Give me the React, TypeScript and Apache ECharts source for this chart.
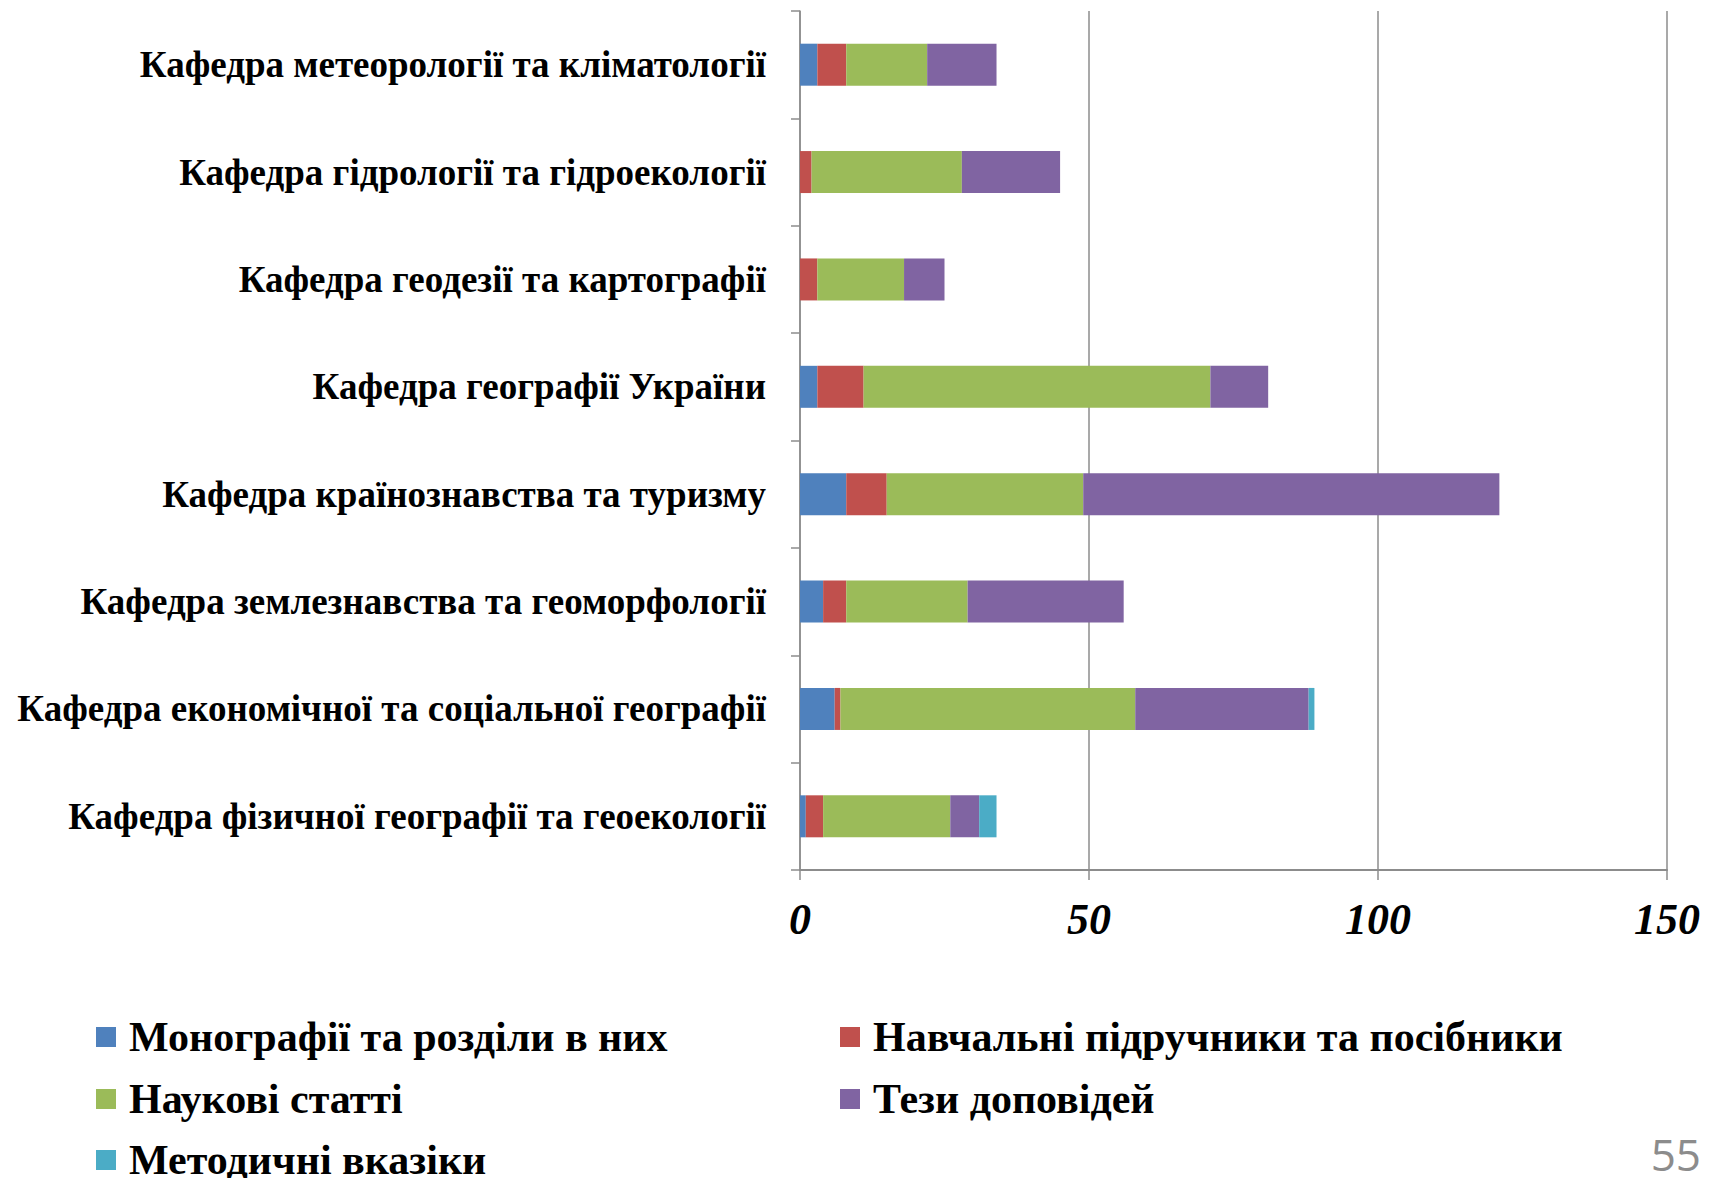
import React, { useEffect, useRef } from "react";
import * as echarts from "echarts";

const categories = [
  "Кафедра метеорології та кліматології",
  "Кафедра гідрології та гідроекології",
  "Кафедра геодезії та картографії",
  "Кафедра географії України",
  "Кафедра країнознавства та туризму",
  "Кафедра землезнавства та геоморфології",
  "Кафедра економічної та соціальної географії",
  "Кафедра фізичної географії та геоекології",
];

const seriesNames = [
  "Монографії та розділи в них",
  "Навчальні підручники та посібники",
  "Наукові статті",
  "Тези доповідей",
  "Методичні вказіки",
];

const monographs = [3, 0, 0, 3, 8, 4, 6, 1];
const textbooks = [5, 2, 3, 8, 7, 4, 1, 3];
const articles = [14, 26, 15, 60, 34, 21, 51, 22];
const theses = [12, 17, 7, 10, 72, 27, 30, 5];
const guidelines = [0, 0, 0, 0, 0, 0, 1, 3];

const xTicks = [0, 50, 100, 150];

const colors = ["#4F81BD", "#C0504D", "#9BBB59", "#8064A2", "#4BACC6"];

export default function App() {
  const ref = useRef<HTMLDivElement>(null);
  useEffect(() => {
    if (!ref.current) return;
    const chart = echarts.init(ref.current, null, { renderer: "svg" });
    const values = [monographs, textbooks, articles, theses, guidelines];
    const serif = "'Liberation Serif', 'Times New Roman', serif";
    const legendLH = 38;
    // legend positions: [seriesIndex, left, row center]
    const legendSlots: [number, number, number][] = [
      [0, 88, 1027],
      [1, 832, 1027],
      [2, 88, 1089],
      [3, 832, 1089],
      [4, 88, 1150],
    ];
    chart.setOption({
      animation: false,
      color: colors,
      grid: { left: 792, right: 48, top: 3, bottom: 308, containLabel: false },
      xAxis: {
        type: "value",
        min: xTicks[0],
        max: xTicks[xTicks.length - 1],
        interval: 50,
        axisLine: { show: true, lineStyle: { color: "#8c8c8c", width: 2 } },
        axisTick: { show: true, length: 10, lineStyle: { color: "#8c8c8c", width: 1.5 } },
        splitLine: { show: true, lineStyle: { color: "#8c8c8c", width: 1.5 } },
        axisLabel: {
          margin: 27,
          fontFamily: serif,
          fontWeight: "bold",
          fontStyle: "italic",
          fontSize: 44,
          color: "#000",
        },
      },
      yAxis: {
        type: "category",
        data: categories,
        inverse: true,
        axisLine: { show: true, lineStyle: { color: "#8c8c8c", width: 1.5 } },
        axisTick: { show: true, length: 9, lineStyle: { color: "#8c8c8c", width: 1.5 } },
        axisLabel: {
          margin: 34,
          fontFamily: serif,
          fontWeight: "bold",
          fontSize: 37,
          color: "#000",
        },
      },
      legend: legendSlots.map(([si, left, cy]) => ({
        orient: "horizontal",
        left,
        top: cy - legendLH / 2,
        padding: 0,
        itemWidth: 20,
        itemHeight: 20,
        icon: "rect",
        textStyle: {
          fontFamily: serif,
          fontWeight: "bold",
          fontSize: 42,
          color: "#000",
          lineHeight: legendLH,
          padding: [0, 0, 0, 8],
        },
        data: [seriesNames[si]],
      })),
      graphic: [
        {
          type: "text",
          right: 14,
          top: 1124,
          style: {
            text: "55",
            fontFamily: "'Open Sans', sans-serif",
            fontSize: 44,
            lineHeight: 40,
            fill: "#8c8c8c",
          },
        },
      ],
      series: seriesNames.map((name, i) => ({
        name,
        type: "bar",
        stack: "total",
        barWidth: 42,
        data: values[i],
        itemStyle: { color: colors[i] },
      })),
    });
    return () => chart.dispose();
  }, []);
  return <div ref={ref} style={{ width: 1707, height: 1170 }} />;
}
